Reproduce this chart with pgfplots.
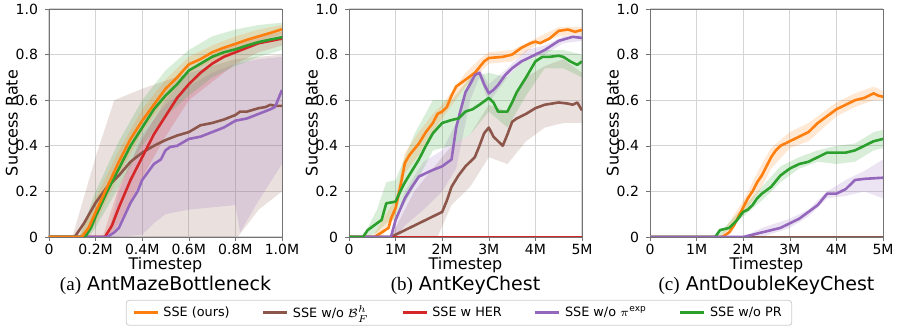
\documentclass[border=0pt]{standalone}
\usepackage{pgfplots}
\pgfplotsset{compat=1.18}
\usepackage{fontspec}
\setmainfont{DejaVu Sans}
\newfontfamily\capserif{Liberation Serif}

\definecolor{cOr}{HTML}{FF7F0E}
\definecolor{cBr}{HTML}{8C564B}
\definecolor{cRe}{HTML}{D62728}
\definecolor{cPu}{HTML}{9467BD}
\definecolor{cGr}{HTML}{2CA02C}

\pgfplotsset{
  panel/.style={
    scale only axis, width=116.5pt, height=114pt,
    ymin=0, ymax=1, xmin=0,
    ytick={0,0.2,0.4,0.6,0.8,1.0}, yticklabels={0,0.2,0.4,0.6,0.8,1.0},
    grid=major, grid style={black!17, line width=0.5pt},
    axis line style={black!55},
    tick style={black!55}, major tick length=2pt, tick align=outside,
    xtick pos=bottom, ytick pos=left,
    tick label style={font=\fontsize{7}{8}\selectfont},
    xticklabel style={yshift=2pt},
    label style={font=\fontsize{8}{9}\selectfont},
    xlabel={Timestep}, ylabel={Success Rate},
    xlabel style={at={(axis description cs:0.5,-0.122)}, anchor=center},
    ylabel style={at={(axis description cs:-0.16,0.5)}, anchor=center},
    clip=true,
  },
  ln/.style={line width=1.3pt, line join=round, color=#1},
  band/.style={fill=#1, fill opacity=0.18, draw=none, forget plot},
}

\begin{document}
\begin{tikzpicture}
\path[use as bounding box] (-24.5pt,-46.5pt) rectangle (424pt,118.5pt);

% ---------- (a) AntMazeBottleneck ----------
\begin{axis}[panel, name=a, at={(0,0)}, anchor=south west, xmax=1.0,
  xtick={0,0.2,0.4,0.6,0.8,1.0}, xticklabels={0,0.2M,0.4M,0.6M,0.8M,1.0M}]
\addplot[band=cBr] coordinates {(0.1,0) (0.2,0.35) (0.28,0.6) (0.4,0.65) (0.6,0.72) (0.8,0.78) (1.0,0.8)
  (1.0,0.2) (0.9,0.12) (0.81,0) (0.12,0)} -- cycle;
\addplot[band=cPu] coordinates {(0.25,0) (0.3,0.2) (0.4,0.45) (0.5,0.58) (0.6,0.66) (0.7,0.72) (0.8,0.76) (0.9,0.78) (1.0,0.79)
  (1.0,0.32) (0.9,0.16) (0.82,0.02) (0.8,0.14) (0.7,0.13) (0.6,0.12) (0.5,0.1) (0.45,0.06) (0.4,0.01) (0.28,0)} -- cycle;
\addplot[band=cRe] coordinates {(0.23,0) (0.3,0.22) (0.4,0.43) (0.5,0.6) (0.6,0.72) (0.7,0.8) (0.8,0.85) (0.9,0.88) (1.0,0.9)
  (1.0,0.84) (0.9,0.81) (0.8,0.76) (0.7,0.68) (0.6,0.6) (0.5,0.44) (0.4,0.26) (0.3,0.06) (0.26,0)} -- cycle;
\addplot[band=cGr] coordinates {(0.13,0) (0.2,0.2) (0.3,0.42) (0.4,0.6) (0.5,0.73) (0.6,0.82) (0.7,0.88) (0.8,0.91) (0.9,0.93) (1.0,0.94)
  (1.0,0.82) (0.9,0.79) (0.8,0.75) (0.7,0.7) (0.6,0.62) (0.5,0.53) (0.4,0.4) (0.3,0.22) (0.2,0.04) (0.17,0)} -- cycle;
\addplot[band=cOr] coordinates {(0.13,0) (0.2,0.17) (0.3,0.38) (0.4,0.56) (0.5,0.69) (0.6,0.79) (0.7,0.84) (0.8,0.88) (0.9,0.91) (1.0,0.93)
  (1.0,0.89) (0.9,0.86) (0.8,0.82) (0.7,0.77) (0.6,0.72) (0.5,0.6) (0.4,0.46) (0.3,0.27) (0.2,0.06) (0.16,0)} -- cycle;
\addplot[ln=cBr, forget plot] coordinates {(0,0) (0.11,0) (0.15,0.06) (0.2,0.15) (0.25,0.22) (0.3,0.27) (0.35,0.33) (0.4,0.37) (0.45,0.4) (0.5,0.425) (0.55,0.445) (0.6,0.46) (0.65,0.49) (0.7,0.5) (0.75,0.515) (0.8,0.535) (0.82,0.55) (0.85,0.55) (0.9,0.565) (0.93,0.57) (0.95,0.58) (0.97,0.575) (1.0,0.575)};
\addplot[ln=cRe, forget plot] coordinates {(0,0) (0.24,0) (0.27,0.05) (0.3,0.13) (0.35,0.25) (0.4,0.35) (0.45,0.45) (0.5,0.53) (0.55,0.61) (0.6,0.67) (0.65,0.72) (0.7,0.76) (0.75,0.79) (0.8,0.81) (0.85,0.83) (0.9,0.85) (0.95,0.86) (1.0,0.87)};
\addplot[ln=cPu, forget plot] coordinates {(0,0) (0.25,0) (0.28,0.02) (0.3,0.04) (0.35,0.15) (0.38,0.2) (0.4,0.25) (0.45,0.32) (0.48,0.34) (0.5,0.38) (0.52,0.395) (0.55,0.4) (0.6,0.43) (0.65,0.44) (0.7,0.46) (0.75,0.48) (0.8,0.51) (0.85,0.52) (0.9,0.54) (0.95,0.56) (0.97,0.57) (1.0,0.645)};
\addplot[ln=cGr, forget plot] coordinates {(0,0) (0.155,0) (0.18,0.04) (0.2,0.09) (0.25,0.2) (0.3,0.3) (0.35,0.4) (0.4,0.48) (0.45,0.56) (0.5,0.62) (0.55,0.67) (0.6,0.73) (0.65,0.76) (0.7,0.79) (0.75,0.81) (0.8,0.823) (0.85,0.84) (0.9,0.855) (0.95,0.866) (1.0,0.876)};
\addplot[ln=cOr, forget plot] coordinates {(0,0) (0.14,0) (0.17,0.04) (0.2,0.11) (0.25,0.22) (0.3,0.33) (0.35,0.43) (0.4,0.51) (0.45,0.58) (0.5,0.65) (0.55,0.7) (0.6,0.757) (0.65,0.78) (0.7,0.81) (0.75,0.83) (0.8,0.847) (0.85,0.865) (0.9,0.88) (0.95,0.895) (1.0,0.911)};
\end{axis}

% ---------- (b) AntKeyChest ----------
\begin{axis}[panel, name=b, at={(150pt,0)}, anchor=south west, xmax=5,
  xtick={0,1,2,3,4,5}, xticklabels={0,1M,2M,3M,4M,5M},
  legend columns=5,
  legend style={at={(0.472,-0.276)}, anchor=north, draw=black!20, rounded corners=1.5pt,
    font=\fontsize{6.4}{7}\selectfont, inner xsep=3pt, inner ysep=0.5pt,
    /tikz/every even column/.append style={column sep=14pt}},
  legend image code/.code={\draw[#1, line width=1.6pt] (0pt,0pt) -- (12pt,0pt);}]
\addplot[band=cBr] coordinates {(0.9,0) (1.4,0.2) (1.8,0.3) (2.2,0.4) (2.6,0.45) (3.0,0.58) (3.4,0.55) (3.8,0.7) (4.2,0.75) (4.6,0.78) (5.0,0.72)
  (5.0,0.5) (4.6,0.5) (4.2,0.48) (3.8,0.42) (3.4,0.32) (3.0,0.35) (2.6,0.22) (2.2,0.14) (1.9,0) (1.0,0)} -- cycle;
\addplot[band=cPu] coordinates {(0.9,0) (1.2,0.2) (1.6,0.33) (2.0,0.38) (2.3,0.5) (2.6,0.7) (2.8,0.74) (3.0,0.67) (3.4,0.74) (3.8,0.82) (4.2,0.84) (4.6,0.88) (5.0,0.89)
  (5.0,0.86) (4.6,0.85) (4.2,0.8) (3.8,0.78) (3.4,0.7) (3.0,0.59) (2.8,0.7) (2.6,0.6) (2.3,0.3) (2.0,0.2) (1.6,0.12) (1.2,0.05) (1.0,0)} -- cycle;
\addplot[band=cGr] coordinates {(0.3,0) (0.6,0.12) (0.8,0.24) (1.0,0.25) (1.4,0.45) (1.8,0.6) (2.2,0.6) (2.6,0.7) (3.0,0.72) (3.4,0.7) (3.8,0.78) (4.2,0.82) (4.6,0.82) (5.0,0.8)
  (5.0,0.7) (4.6,0.74) (4.2,0.74) (3.8,0.62) (3.4,0.48) (3.0,0.55) (2.6,0.45) (2.2,0.4) (1.8,0.38) (1.4,0.22) (1.0,0.08) (0.8,0.06) (0.6,0.02) (0.4,0)} -- cycle;
\addplot[band=cOr] coordinates {(0.5,0) (1.0,0.17) (1.2,0.37) (1.5,0.46) (1.8,0.54) (2.0,0.58) (2.5,0.72) (2.8,0.78) (3.0,0.81) (3.5,0.82) (4.0,0.87) (4.5,0.92) (5.0,0.92)
  (5.0,0.89) (4.5,0.88) (4.0,0.84) (3.5,0.77) (3.0,0.76) (2.5,0.66) (2.0,0.52) (1.8,0.46) (1.5,0.36) (1.2,0.28) (1.0,0.09) (0.7,0)} -- cycle;
\addplot[ln=cOr] coordinates {(0,0) (0.55,0) (0.7,0.02) (0.85,0.04) (0.9,0.08) (1.0,0.127) (1.1,0.22) (1.2,0.325) (1.3,0.36) (1.5,0.41) (1.65,0.46) (1.8,0.5) (1.9,0.54) (2.0,0.55) (2.1,0.57) (2.2,0.62) (2.3,0.66) (2.5,0.69) (2.7,0.72) (2.9,0.77) (3.0,0.785) (3.3,0.79) (3.5,0.8) (3.7,0.83) (3.9,0.85) (4.0,0.857) (4.1,0.85) (4.3,0.87) (4.5,0.904) (4.7,0.91) (4.85,0.9) (5.0,0.908)};
\addlegendentry{SSE (ours)}
\addplot[ln=cBr] coordinates {(0,0) (0.9,0) (1.0,0.01) (1.2,0.03) (1.5,0.06) (1.8,0.09) (2.0,0.11) (2.1,0.16) (2.2,0.22) (2.35,0.27) (2.5,0.31) (2.7,0.35) (2.8,0.4) (2.9,0.455) (3.0,0.48) (3.1,0.44) (3.2,0.42) (3.3,0.4) (3.4,0.45) (3.5,0.505) (3.6,0.52) (3.8,0.54) (4.0,0.565) (4.2,0.58) (4.5,0.59) (4.7,0.585) (4.8,0.58) (4.9,0.59) (5.0,0.555)};
\addlegendentry{SSE w/o $\mathcal{B}_F^h$}
\addplot[ln=cRe] coordinates {(0,0) (5,0)};
\addlegendentry{SSE w HER}
\addplot[ln=cPu] coordinates {(0,0) (0.9,0) (1.0,0.075) (1.2,0.17) (1.35,0.22) (1.5,0.265) (1.65,0.28) (1.8,0.294) (2.0,0.31) (2.2,0.34) (2.3,0.48) (2.4,0.56) (2.5,0.635) (2.6,0.67) (2.7,0.71) (2.8,0.72) (2.9,0.67) (3.0,0.63) (3.1,0.645) (3.2,0.667) (3.35,0.71) (3.5,0.74) (3.7,0.77) (4.0,0.8) (4.2,0.82) (4.5,0.86) (4.8,0.878) (5.0,0.873)};
\addlegendentry{SSE w/o $\pi^{\mathrm{exp}}$}
\addplot[ln=cGr] coordinates {(0,0) (0.3,0) (0.4,0.03) (0.5,0.045) (0.7,0.075) (0.8,0.148) (1.0,0.155) (1.1,0.2) (1.2,0.24) (1.35,0.29) (1.5,0.34) (1.65,0.4) (1.8,0.455) (2.0,0.5) (2.2,0.513) (2.35,0.52) (2.5,0.55) (2.65,0.56) (2.8,0.58) (3.0,0.61) (3.1,0.59) (3.2,0.55) (3.4,0.55) (3.5,0.59) (3.6,0.635) (3.8,0.7) (4.0,0.77) (4.15,0.79) (4.3,0.79) (4.5,0.795) (4.6,0.79) (4.75,0.77) (4.9,0.755) (5.0,0.77)};
\addlegendentry{SSE w/o PR}
\end{axis}

% ---------- (c) AntDoubleKeyChest ----------
\begin{axis}[panel, name=c, at={(300.5pt,0)}, anchor=south west, xmax=5,
  xtick={0,1,2,3,4,5}, xticklabels={0,1M,2M,3M,4M,5M}]
\addplot[band=cPu] coordinates {(2.0,0) (2.4,0.04) (3.0,0.08) (3.4,0.12) (3.8,0.2) (4.2,0.25) (4.6,0.29) (5.0,0.34)
  (5.0,0.17) (4.6,0.2) (4.2,0.18) (3.8,0.17) (3.4,0.09) (3.0,0.04) (2.4,0)} -- cycle;
\addplot[band=cGr] coordinates {(1.4,0) (2.0,0.13) (2.4,0.22) (2.8,0.31) (3.2,0.35) (3.6,0.38) (4.0,0.4) (4.4,0.41) (4.8,0.46) (5.0,0.47)
  (5.0,0.39) (4.8,0.38) (4.4,0.33) (4.0,0.32) (3.6,0.33) (3.2,0.3) (2.8,0.24) (2.4,0.16) (2.0,0.09) (1.5,0)} -- cycle;
\addplot[band=cOr] coordinates {(1.5,0) (2.0,0.16) (2.4,0.32) (2.6,0.39) (3.0,0.46) (3.4,0.5) (4.0,0.59) (4.4,0.63) (4.8,0.66) (5.0,0.64)
  (5.0,0.6) (4.8,0.6) (4.4,0.57) (4.0,0.53) (3.4,0.42) (3.0,0.39) (2.6,0.3) (2.4,0.22) (2.0,0.1) (1.6,0)} -- cycle;
\addplot[ln=cRe] coordinates {(0,0) (5,0)};
\addplot[ln=cBr] coordinates {(0,0) (5,0)};
\addplot[ln=cOr] coordinates {(0,0) (1.55,0) (1.7,0.02) (1.8,0.05) (1.9,0.09) (2.0,0.13) (2.1,0.17) (2.2,0.2) (2.3,0.24) (2.4,0.27) (2.5,0.31) (2.6,0.35) (2.7,0.38) (2.8,0.4) (3.0,0.42) (3.2,0.44) (3.4,0.46) (3.5,0.48) (3.6,0.5) (3.8,0.53) (4.0,0.56) (4.2,0.58) (4.4,0.6) (4.6,0.61) (4.8,0.63) (4.9,0.62) (5.0,0.615)};
\addplot[ln=cGr] coordinates {(0,0) (1.4,0) (1.5,0.03) (1.7,0.04) (1.85,0.07) (2.0,0.11) (2.1,0.12) (2.2,0.14) (2.3,0.17) (2.4,0.19) (2.6,0.22) (2.8,0.27) (3.0,0.3) (3.2,0.32) (3.4,0.33) (3.5,0.34) (3.6,0.35) (3.8,0.37) (4.0,0.37) (4.2,0.37) (4.4,0.38) (4.6,0.4) (4.8,0.42) (5.0,0.43)};
\addplot[ln=cPu] coordinates {(0,0) (2.0,0) (2.2,0.01) (2.4,0.02) (2.6,0.03) (2.8,0.04) (3.0,0.06) (3.2,0.08) (3.4,0.11) (3.6,0.14) (3.8,0.19) (4.0,0.19) (4.2,0.21) (4.4,0.25) (4.6,0.255) (5.0,0.26)};
\end{axis}

\node[font=\fontsize{9.5}{11}\selectfont] at ([yshift=-24pt]a.south) {{\capserif (a)} AntMazeBottleneck};
\node[font=\fontsize{9.5}{11}\selectfont] at ([yshift=-24pt]b.south) {{\capserif (b)} AntKeyChest};
\node[font=\fontsize{9.5}{11}\selectfont] at ([yshift=-24pt]c.south) {{\capserif (c)} AntDoubleKeyChest};
\end{tikzpicture}
\end{document}
